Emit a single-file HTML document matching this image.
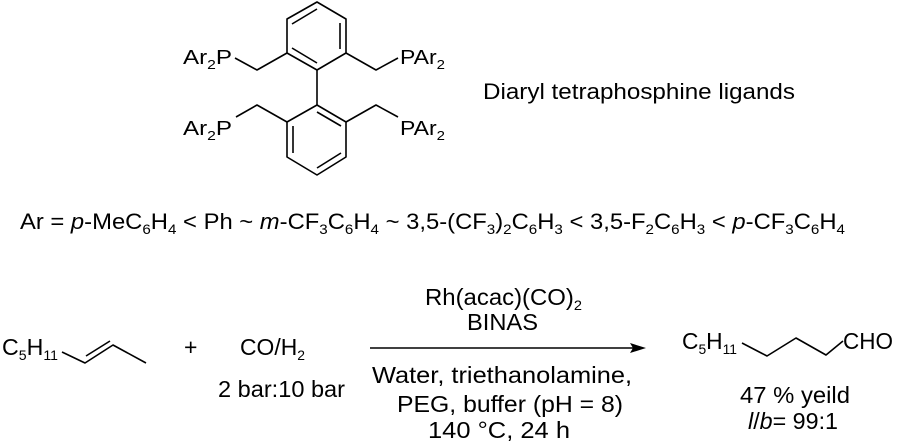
<!DOCTYPE html>
<html><head><meta charset="utf-8"><style>
html,body{margin:0;padding:0;background:#fff;}
svg{display:block;}
text{font-family:"Liberation Sans",Arial,sans-serif;fill:#000;}
</style></head><body>
<svg width="900" height="447" viewBox="0 0 900 447" xmlns="http://www.w3.org/2000/svg">
<g stroke="#000" stroke-width="1.6" fill="none" stroke-linejoin="round">
<polygon points="317,2 346,19 346,53 317,70 287,53 287,19"/>
<line x1="292" y1="24" x2="317" y2="9"/>
<line x1="340" y1="23" x2="340" y2="49"/>
<line x1="292" y1="48" x2="317" y2="63"/>
<polygon points="317,105 346,122 346,157 317,175 287,157 287,122"/>
<line x1="293" y1="126" x2="293" y2="153"/>
<line x1="317" y1="112" x2="341" y2="126"/>
<line x1="317" y1="168" x2="341" y2="153"/>
<line x1="317" y1="70" x2="317" y2="105"/>
<polyline points="287,53 257,70 235,58"/>
<polyline points="346,53 376,70 398,58"/>
<polyline points="287,122 257,105 236,117"/>
<polyline points="346,122 376,105 398,117"/>
<polyline points="62,352 85,363 113,345 146,363"/>
<line x1="86" y1="356" x2="110" y2="341"/>
<polyline points="742,343 767,356 796,338 826,355 843,341"/>
<line x1="370" y1="348" x2="634" y2="348"/>
</g>
<polygon points="646,348 630,343 633,348 630,353" fill="#000"/>
<g font-size="20">
<text x="183" y="64" textLength="49" lengthAdjust="spacingAndGlyphs">Ar<tspan font-size="13" dy="5">2</tspan><tspan dy="-5">P</tspan></text>
<text x="400" y="64" textLength="45" lengthAdjust="spacingAndGlyphs">PAr<tspan font-size="13" dy="5">2</tspan></text>
<text x="183" y="135" textLength="49" lengthAdjust="spacingAndGlyphs">Ar<tspan font-size="13" dy="5">2</tspan><tspan dy="-5">P</tspan></text>
<text x="400" y="135" textLength="45" lengthAdjust="spacingAndGlyphs">PAr<tspan font-size="13" dy="5">2</tspan></text>
</g>
<text x="483" y="99" font-size="22" textLength="312" lengthAdjust="spacingAndGlyphs">Diaryl tetraphosphine ligands</text>
<text x="20" y="229" font-size="22" textLength="825" lengthAdjust="spacingAndGlyphs">Ar = <tspan font-style="italic">p</tspan>-MeC<tspan font-size="14" dy="5">6</tspan><tspan dy="-5">H</tspan><tspan font-size="14" dy="5">4</tspan><tspan dy="-5"> &lt; Ph ~ </tspan><tspan font-style="italic">m</tspan>-CF<tspan font-size="14" dy="5">3</tspan><tspan dy="-5">C</tspan><tspan font-size="14" dy="5">6</tspan><tspan dy="-5">H</tspan><tspan font-size="14" dy="5">4</tspan><tspan dy="-5"> ~ 3,5-(CF</tspan><tspan font-size="14" dy="5">3</tspan><tspan dy="-5">)</tspan><tspan font-size="14" dy="5">2</tspan><tspan dy="-5">C</tspan><tspan font-size="14" dy="5">6</tspan><tspan dy="-5">H</tspan><tspan font-size="14" dy="5">3</tspan><tspan dy="-5"> &lt; 3,5-F</tspan><tspan font-size="14" dy="5">2</tspan><tspan dy="-5">C</tspan><tspan font-size="14" dy="5">6</tspan><tspan dy="-5">H</tspan><tspan font-size="14" dy="5">3</tspan><tspan dy="-5"> &lt; </tspan><tspan font-style="italic">p</tspan>-CF<tspan font-size="14" dy="5">3</tspan><tspan dy="-5">C</tspan><tspan font-size="14" dy="5">6</tspan><tspan dy="-5">H</tspan><tspan font-size="14" dy="5">4</tspan></text>
<g font-size="23">
<text x="2" y="355" textLength="56" lengthAdjust="spacingAndGlyphs">C<tspan font-size="14" dy="5">5</tspan><tspan dy="-5">H</tspan><tspan font-size="14" dy="5">11</tspan></text>
<text x="184" y="355">+</text>
<text x="240" y="355" textLength="65" lengthAdjust="spacingAndGlyphs">CO/H<tspan font-size="14" dy="5">2</tspan></text>
<text x="218" y="397" textLength="127" lengthAdjust="spacingAndGlyphs">2 bar:10 bar</text>
<text x="425" y="305" textLength="157" lengthAdjust="spacingAndGlyphs">Rh(acac)(CO)<tspan font-size="14" dy="5">2</tspan></text>
<text x="467" y="330" textLength="71" lengthAdjust="spacingAndGlyphs">BINAS</text>
<text x="372" y="383" textLength="260" lengthAdjust="spacingAndGlyphs">Water, triethanolamine,</text>
<text x="397" y="412" textLength="226" lengthAdjust="spacingAndGlyphs">PEG, buffer (pH = 8)</text>
<text x="428" y="438" textLength="142" lengthAdjust="spacingAndGlyphs">140 °C, 24 h</text>
<text x="682" y="349" textLength="55" lengthAdjust="spacingAndGlyphs">C<tspan font-size="14" dy="5">5</tspan><tspan dy="-5">H</tspan><tspan font-size="14" dy="5">11</tspan></text>
<text x="843" y="349" textLength="50" lengthAdjust="spacingAndGlyphs">CHO</text>
<text x="740" y="403" textLength="110" lengthAdjust="spacingAndGlyphs">47 % yeild</text>
<text x="748" y="429" textLength="90" lengthAdjust="spacingAndGlyphs"><tspan font-style="italic">l</tspan>/<tspan font-style="italic">b</tspan>= 99:1</text>
</g>
</svg>
</body></html>
